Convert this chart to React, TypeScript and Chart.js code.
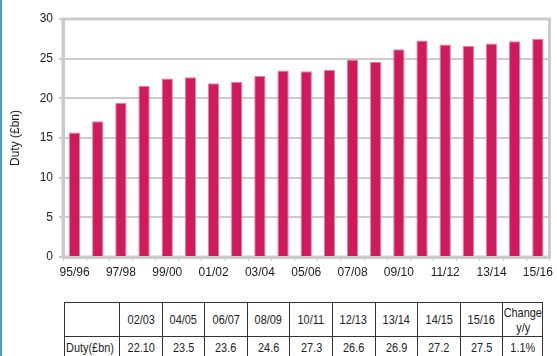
import React, { useEffect, useRef } from "react";
import { Chart, registerables } from "chart.js";

Chart.register(...registerables);

// Fiscal years on the category axis
const seasons = [
  "95/96", "96/97", "97/98", "98/99", "99/00", "00/01", "01/02", "02/03",
  "03/04", "04/05", "05/06", "06/07", "07/08", "08/09", "09/10", "10/11",
  "11/12", "12/13", "13/14", "14/15", "15/16",
];

// Duty receipts, £bn
const dutyBn = [
  15.7, 17.1, 19.45, 21.55, 22.5, 22.65, 21.9, 22.1,
  22.8, 23.5, 23.4, 23.6, 24.9, 24.6, 26.2, 27.3,
  26.8, 26.6, 26.9, 27.2, 27.5,
];

const yTicks = [0, 5, 10, 15, 20, 25, 30];

// Summary table beneath the chart
const tableYears = ["02/03", "04/05", "06/07", "08/09", "10/11", "12/13", "13/14", "14/15", "15/16"];
const tableValues = ["22.10", "23.5", "23.6", "24.6", "27.3", "26.6", "26.9", "27.2", "27.5"];
const changeLabel = ["Change", "y/y"];
const changeValue = "1.1%";
const rowLabel = "Duty(£bn)";

const BAR_COLOR = "#d01a5e";
const GRID_COLOR = "#cbcbcb";
const TEXT_COLOR = "#222222";
const FONT = "'Liberation Sans', Arial, sans-serif";

const framePlugin = {
  id: "frame",
  beforeDatasetsDraw(chart: any) {
    const { ctx, chartArea } = chart;
    ctx.save();
    ctx.strokeStyle = GRID_COLOR;
    ctx.lineWidth = 3;
    ctx.strokeRect(chartArea.left, chartArea.top, chartArea.right - chartArea.left, chartArea.bottom - chartArea.top);
    ctx.restore();
  },
};

function DutyChart() {
  const ref = useRef<HTMLCanvasElement | null>(null);
  useEffect(() => {
    let chart: Chart | null = null;
    let cancelled = false;
    const build = () => {
      if (cancelled || !ref.current) return;
      chart = new Chart(ref.current, {
        type: "bar",
        data: {
          labels: seasons,
          datasets: [
            {
              data: dutyBn,
              backgroundColor: BAR_COLOR,
              borderColor: "#e580a6",
              borderWidth: { top: 1, left: 1, right: 1, bottom: 0 },
              barPercentage: 0.49,
              categoryPercentage: 1,
            },
          ],
        },
        options: {
          animation: false,
          responsive: false,
          devicePixelRatio: 1,
          layout: { padding: { top: 19, right: 5, left: 0, bottom: 0 } },
          plugins: { legend: { display: false }, tooltip: { enabled: false } },
          scales: {
            x: {
              afterFit(scale: any) {
                scale.height = 23;
              },
              grid: {
                display: true,
                drawOnChartArea: false,
                offset: true,
                tickLength: 4,
                color: GRID_COLOR,
                lineWidth: 1,
              },
              border: { color: GRID_COLOR, width: 3 },
              ticks: {
                autoSkip: false,
                maxRotation: 0,
                padding: 4,
                color: TEXT_COLOR,
                font: { family: FONT, size: 12 },
                callback(_v: any, i: number) {
                  return i % 2 === 0 ? seasons[i] : "";
                },
              },
            },
            y: {
              min: 0,
              max: 30,
              afterFit(scale: any) {
                scale.width = 63;
              },
              afterBuildTicks(scale: any) {
                scale.ticks = yTicks.map((v) => ({ value: v }));
              },
              grid: { color: GRID_COLOR, lineWidth: 2, tickLength: 4 },
              border: { color: GRID_COLOR, width: 3 },
              ticks: {
                padding: 6,
                color: TEXT_COLOR,
                font: { family: FONT, size: 12 },
              },
              title: {
                display: true,
                text: "Duty (£bn)",
                color: TEXT_COLOR,
                font: { family: FONT, size: 12 },
                padding: { top: 8, bottom: 0 },
              },
            },
          },
        },
        plugins: [framePlugin],
      });
    };
    const fonts: any = (document as any).fonts;
    if (fonts && fonts.load) {
      fonts.load("12px 'Liberation Sans'").then(build, build);
    } else {
      build();
    }
    return () => {
      cancelled = true;
      if (chart) chart.destroy();
    };
  }, []);
  return <canvas ref={ref} width={557} height={280} style={{ display: "block" }} />;
}

const cell: React.CSSProperties = {
  border: "1px solid #333",
  padding: 0,
  textAlign: "center",
  fontFamily: "'Liberation Sans', Arial, sans-serif",
  fontSize: 13,
  color: "#222",
  whiteSpace: "nowrap",
};

// Condensed look for the table text
const Narrow = ({ children, left = false }: { children: React.ReactNode; left?: boolean }) => (
  <div style={{ display: "flex", justifyContent: left ? "flex-start" : "center", width: "100%" }}>
    <span
      style={{
        display: "inline-block",
        flexShrink: 0,
        transform: "scaleX(0.84)",
        transformOrigin: left ? "left" : "center",
      }}
    >
      {children}
    </span>
  </div>
);

export default function App() {
  useEffect(() => {
    document.body.style.margin = "0";
  }, []);
  return (
    <div style={{ position: "relative", width: 557, height: 356, overflow: "hidden", background: "#fff" }}>
      <div style={{ position: "absolute", left: 0, top: 0, width: 2, height: 356, background: "#3fa0c4" }} />
      <div style={{ position: "absolute", left: 0, top: 0 }}>
        <DutyChart />
      </div>
      <table
        style={{
          position: "absolute",
          left: 64,
          top: 302,
          borderCollapse: "collapse",
          tableLayout: "fixed",
          width: 479,
        }}
      >
        <colgroup>
          <col style={{ width: 55 }} />
          {tableYears.map((y) => (
            <col key={y} style={{ width: 42.6 }} />
          ))}
          <col style={{ width: 40 }} />
        </colgroup>
        <tbody>
          <tr style={{ height: 34 }}>
            <td style={cell}></td>
            {tableYears.map((y) => (
              <td key={y} style={cell}>
                <Narrow>{y}</Narrow>
              </td>
            ))}
            <td style={{ ...cell, lineHeight: "15px" }}>
              <Narrow>{changeLabel[0]}</Narrow>
              <Narrow>{changeLabel[1]}</Narrow>
            </td>
          </tr>
          <tr style={{ height: 22 }}>
            <td style={{ ...cell, textAlign: "left", paddingLeft: 1 }}>
              <Narrow left>{rowLabel}</Narrow>
            </td>
            {tableValues.map((v, i) => (
              <td key={i} style={cell}>
                <Narrow>{v}</Narrow>
              </td>
            ))}
            <td style={cell}>
              <Narrow>{changeValue}</Narrow>
            </td>
          </tr>
        </tbody>
      </table>
    </div>
  );
}
